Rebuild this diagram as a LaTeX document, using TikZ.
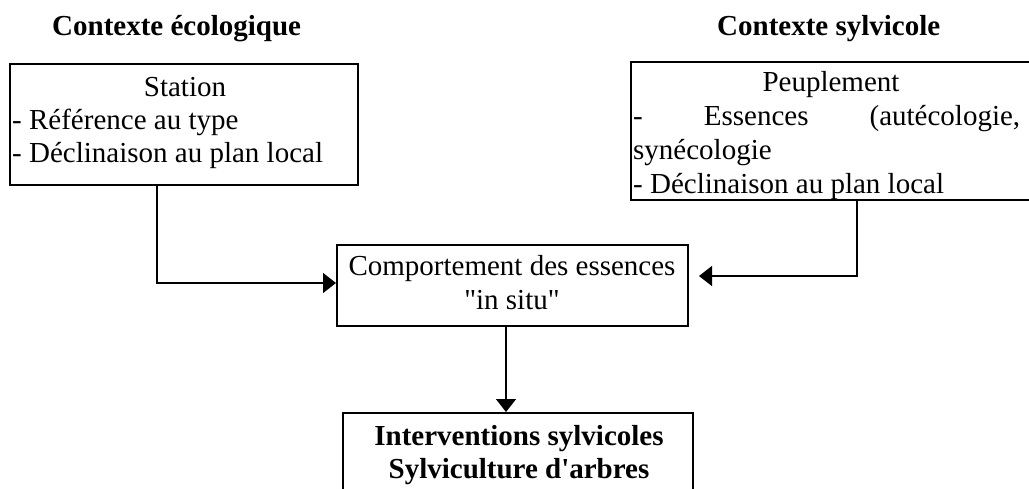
\documentclass[tikz,border=0pt]{standalone}
\usepackage{fontspec}
\setmainfont{Liberation Serif}
\usepackage{tikz}
\usetikzlibrary{arrows.meta}
\tikzset{>={Triangle[length=13pt,width=20pt]}}
\tikzset{
  boite/.style={draw, line width=2pt, inner sep=0pt},
  ligne/.style={inner sep=0pt, font=\fontsize{29}{33}\selectfont},
  titre/.style={inner sep=0pt, font=\fontsize{29}{33}\selectfont\bfseries},
  fleche/.style={line width=1.3pt, ->}
}
\newcommand{\apos}{\XeTeXglyph\XeTeXcharglyph"0027\relax}
\newcommand{\guill}{\XeTeXglyph\XeTeXcharglyph"0022\relax}

\begin{document}
\begin{tikzpicture}[x=1pt,y=-1pt]
\useasboundingbox (0,0) rectangle (1029,488);

  % titres
  \node[titre, anchor=base west] (titreeco) at (52,35) {Contexte écologique};
  \node[titre, anchor=base west] (titresyl) at (717,35) {Contexte sylvicole};

  % boites
  \node[boite, minimum width=348pt, minimum height=121pt] (station) at (184,124.5) {};
  \node[boite, minimum width=409pt, minimum height=138pt] (peuple) at (835.5,131) {};
  \node[boite, minimum width=351pt, minimum height=81pt] (comport) at (512.5,285.5) {};
  \node[boite, minimum width=350pt, minimum height=87pt] (interv) at (518,456.5) {};

  % textes des boites
  \node[ligne, anchor=base] (stationnom) at (185,96) {Station};
  \node[ligne, anchor=base west] (stationref) at (12,129) {- Référence au type};
  \node[ligne, anchor=base west] (stationdecl) at (12,162) {- Déclinaison au plan local};

  \node[ligne, anchor=base] (peuplenom) at (831,91) {Peuplement};
  \node[ligne, anchor=base west] (peupleess) at (633,125) {\makebox[387pt][s]{- Essences (autécologie,}};
  \node[ligne, anchor=base west] (peuplesyn) at (633,159) {synécologie};
  \node[ligne, anchor=base west] (peupledecl) at (633,193) {- Déclinaison au plan local};

  \node[ligne, anchor=base] (comportun) at (512,275) {Comportement des essences};
  \node[ligne, anchor=base] (comportdeux) at (512,309) {\guill in situ\guill};

  \node[titre, anchor=base] (intervun) at (519,445) {Interventions sylvicoles};
  \node[titre, anchor=base] (intervdeux) at (519,478) {Sylviculture d\apos arbres};

  % fleches
  \draw[fleche] ([xshift=-27pt]station.south) |- ([yshift=2.5pt]comport.west);
  \draw[fleche] ([xshift=21.5pt]peuple.south) |- ([shift={(10pt,9.5pt)}]comport.east);
  \draw[fleche] ([xshift=-6.5pt]comport.south) -- ([xshift=-6.5pt]comport.south |- interv.north);

\end{tikzpicture}
\end{document}
